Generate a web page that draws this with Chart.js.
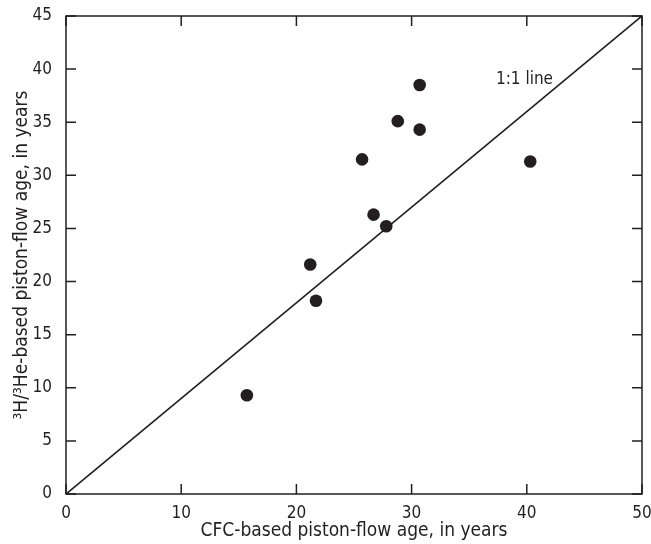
<!DOCTYPE html>
<html>
<head>
<meta charset="utf-8">
<script src="https://cdn.jsdelivr.net/npm/chart.js@4.4.1/dist/chart.umd.min.js"></script>
<style>
    body { margin: 0; background: #ffffff; }
    canvas { display: block; }
</style>
</head>
<body>
<canvas id="chartAges" width="651" height="544"></canvas>
<script>
// CFC-based vs 3H/3He-based piston-flow ages (years)
const cfcAges = [15.7, 21.2, 21.7, 25.7, 26.7, 27.8, 28.8, 30.7, 30.7, 40.3];
const heliumAges = [9.3, 21.6, 18.2, 31.5, 26.3, 25.2, 35.1, 34.3, 38.5, 31.3];

// reference line drawn corner to corner
const refLineX = [0, 50];
const refLineY = [0, 45];

const xTicks = [0, 10, 20, 30, 40, 50];
const yTicks = [0, 5, 10, 15, 20, 25, 30, 35, 40, 45];

const ink = '#231f20';
const fontFamily = "'Liberation Sans Narrow', 'DejaVu Sans Condensed', 'Arial Narrow', sans-serif";

// frame + inward ticks on all four sides
const framePlugin = {
    id: 'frame',
    afterDatasetsDraw(chart) {
        const { ctx, chartArea: a, scales } = chart;
        const len = 10;
        ctx.save();
        ctx.strokeStyle = ink;
        ctx.lineWidth = 1.5;
        ctx.strokeRect(a.left, a.top, a.right - a.left, a.bottom - a.top);
        ctx.beginPath();
        xTicks.forEach(v => {
            const px = scales.x.getPixelForValue(v);
            ctx.moveTo(px, a.bottom); ctx.lineTo(px, a.bottom - len);
            ctx.moveTo(px, a.top); ctx.lineTo(px, a.top + len);
        });
        yTicks.forEach(v => {
            const py = scales.y.getPixelForValue(v);
            ctx.moveTo(a.left, py); ctx.lineTo(a.left + len, py);
            ctx.moveTo(a.right, py); ctx.lineTo(a.right - len, py);
        });
        ctx.stroke();

        // label of the reference line
        ctx.fillStyle = ink;
        ctx.font = '17px ' + fontFamily;
        ctx.textAlign = 'center';
        ctx.textBaseline = 'middle';
        ctx.fillText('1:1 line', scales.x.getPixelForValue(39.8), scales.y.getPixelForValue(39.0));
        ctx.restore();
    }
};

new Chart(document.getElementById('chartAges'), {
    type: 'scatter',
    data: {
        datasets: [{
            label: 'Samples',
            data: cfcAges.map((x, i) => ({ x: x, y: heliumAges[i] })),
            backgroundColor: ink,
            borderWidth: 0,
            pointRadius: 6.3,
            pointHoverRadius: 6.3
        }, {
            label: '1:1 line',
            type: 'line',
            data: refLineX.map((x, i) => ({ x: x, y: refLineY[i] })),
            borderColor: ink,
            borderWidth: 1.7,
            pointRadius: 0,
            fill: false
        }]
    },
    plugins: [framePlugin],
    options: {
        responsive: false,
        animation: false,
        layout: {
            padding: { top: 16, right: 9, left: 0, bottom: 0 }
        },
        plugins: {
            legend: { display: false },
            tooltip: { enabled: false }
        },
        scales: {
            x: {
                type: 'linear',
                min: 0,
                max: 50,
                afterFit: scale => {
                    scale.height = 50;
                    scale.paddingLeft = 0;
                    scale.paddingRight = 0;
                },
                grid: { display: false },
                border: { display: false },
                ticks: {
                    stepSize: 10,
                    color: ink,
                    padding: 1,
                    font: { size: 17, family: fontFamily }
                },
                title: {
                    display: true,
                    text: 'CFC-based piston-flow age, in years',
                    color: ink,
                    padding: { top: 0, bottom: 2 },
                    font: { size: 19, family: fontFamily }
                }
            },
            y: {
                type: 'linear',
                min: 0,
                max: 45,
                afterFit: scale => {
                    scale.width = 66;
                    scale.paddingTop = 0;
                    scale.paddingBottom = 0;
                },
                grid: { display: false },
                border: { display: false },
                ticks: {
                    stepSize: 5,
                    color: ink,
                    padding: 6,
                    font: { size: 17, family: fontFamily }
                },
                title: {
                    display: true,
                    text: '³H/³He-based piston-flow age, in years',
                    color: ink,
                    padding: { top: 11, bottom: 0 },
                    font: { size: 19, family: fontFamily }
                }
            }
        }
    }
});
</script>
</body>
</html>
